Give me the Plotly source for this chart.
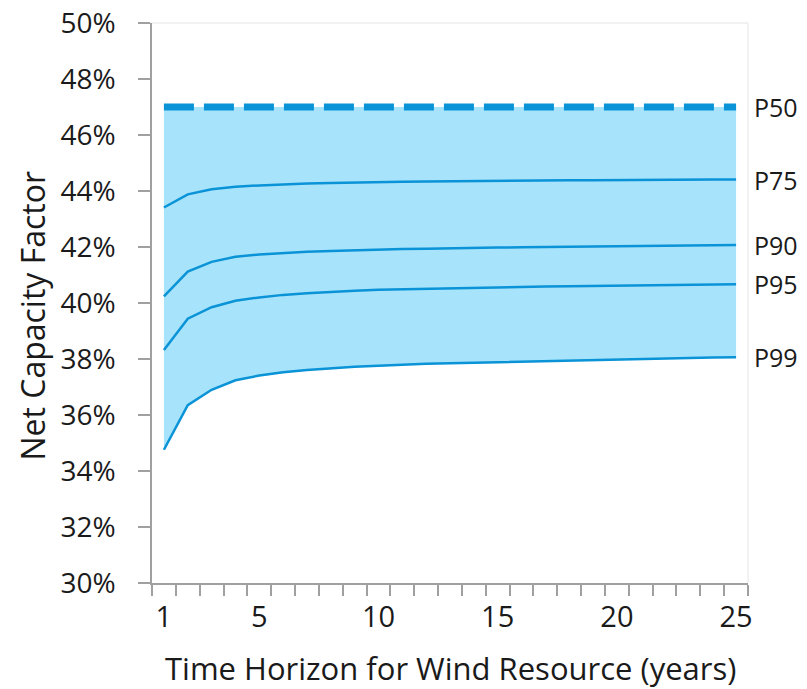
import plotly.graph_objects as go

years = list(range(1, 26))
p50 = [47.0] * 25
p75 = [43.41, 43.88, 44.06, 44.15, 44.20, 44.24, 44.27, 44.29, 44.31, 44.32, 44.33, 44.34, 44.35,
       44.36, 44.36, 44.37, 44.37, 44.38, 44.38, 44.39, 44.39, 44.40, 44.40, 44.41, 44.41]
p90 = [40.24, 41.12, 41.47, 41.65, 41.73, 41.79, 41.83, 41.86, 41.89, 41.91, 41.93, 41.94, 41.96,
       41.97, 41.98, 41.99, 42.00, 42.01, 42.02, 42.03, 42.04, 42.05, 42.05, 42.06, 42.07]
p95 = [38.32, 39.44, 39.85, 40.08, 40.20, 40.29, 40.35, 40.40, 40.44, 40.47, 40.49, 40.51, 40.53,
       40.55, 40.56, 40.58, 40.59, 40.60, 40.61, 40.62, 40.63, 40.64, 40.65, 40.66, 40.67]
p99 = [34.76, 36.35, 36.90, 37.24, 37.41, 37.53, 37.61, 37.67, 37.72, 37.76, 37.80, 37.83, 37.85,
       37.87, 37.89, 37.91, 37.93, 37.95, 37.97, 37.98, 38.00, 38.01, 38.03, 38.05, 38.06]
labels = ["P50", "P75", "P90", "P95", "P99"]
series = [p50, p75, p90, p95, p99]
x_tick_vals = [1, 5, 10, 15, 20, 25]
y_tick_vals = [30, 32, 34, 36, 38, 40, 42, 44, 46, 48, 50]
x_title = "Time Horizon for Wind Resource (years)"
y_title = "Net Capacity Factor"

LINE = "#0A93D6"
FILL = "#A7E4FC"
AXIS = "#A0A0A0"
TEXT = "#1A1A1A"
FONT = "Open Sans"

fig = go.Figure()
# shaded band between P99 and P50
fig.add_trace(go.Scatter(x=years, y=p99, mode="lines", line=dict(width=0, color=FILL),
                         showlegend=False, hoverinfo="skip"))
fig.add_trace(go.Scatter(x=years, y=p50, mode="lines", line=dict(width=0, color=FILL),
                         fill="tonexty", fillcolor=FILL, showlegend=False, hoverinfo="skip"))
for name, s in zip(labels, series):
    if name == "P50":
        ln = dict(color=LINE, width=7, dash="30px,10px")
    else:
        ln = dict(color=LINE, width=2.5)
    fig.add_trace(go.Scatter(x=years, y=s, mode="lines", line=ln, name=name, showlegend=False))
    fig.add_annotation(x=25.5, y=s[-1], xref="x", yref="y", text=name, showarrow=False,
                       xanchor="left", yanchor="middle", xshift=4,
                       font=dict(family=FONT, size=25, color=TEXT))

fig.update_layout(
    width=807, height=689,
    margin=dict(l=152, r=59, t=23, b=106, autoexpand=False),
    paper_bgcolor="white", plot_bgcolor="white",
    showlegend=False,
    font=dict(family=FONT, color=TEXT),
)
fig.update_xaxes(
    range=[0.5, 25.5], tickmode="array", tickvals=x_tick_vals,
    ticktext=[str(v) for v in x_tick_vals], ticks="",
    minor=dict(tick0=0.5, dtick=1, ticks="outside", ticklen=11, tickcolor=AXIS, tickwidth=1.5),
    showline=True, linecolor=AXIS, linewidth=1.5, mirror=False,
    showgrid=False, zeroline=False, automargin=False,
    tickfont=dict(family=FONT, size=29, color=TEXT),
    ticklabelstandoff=7, ticklabeloverflow="allow",
)
fig.update_yaxes(
    range=[30, 50], tickmode="array", tickvals=y_tick_vals,
    ticktext=[f"{v}%" for v in y_tick_vals],
    ticks="outside", ticklen=12, tickcolor=AXIS, tickwidth=1.5,
    showline=True, linecolor=AXIS, linewidth=1.5,
    showgrid=False, zeroline=False, automargin=False,
    tickfont=dict(family=FONT, size=28, color=TEXT),
    ticklabelstandoff=17, ticklabeloverflow="allow",
)
# axis titles
fig.add_annotation(xref="paper", yref="paper", x=0.5, y=0, yshift=-85, text=x_title,
                   showarrow=False, xanchor="center", yanchor="middle",
                   font=dict(family=FONT, size=31, color=TEXT))
fig.add_annotation(xref="paper", yref="paper", x=0, y=0.4776, xshift=-119, text=y_title,
                   textangle=-90, showarrow=False, xanchor="center", yanchor="middle",
                   font=dict(family=FONT, size=32, color=TEXT))
# faint plot border on top and right
fig.add_shape(type="line", xref="paper", yref="paper", x0=0, x1=1, y0=1, y1=1,
              line=dict(color="#EEEEEE", width=1.5))
fig.add_shape(type="line", xref="paper", yref="paper", x0=1, x1=1, y0=0, y1=1,
              line=dict(color="#EEEEEE", width=1.5))

# remove the default page margin so the figure sits at the window's top-left corner
fig.write_html("out.html", config={"displayModeBar": False},
               post_script="document.body.style.margin='0px';")
